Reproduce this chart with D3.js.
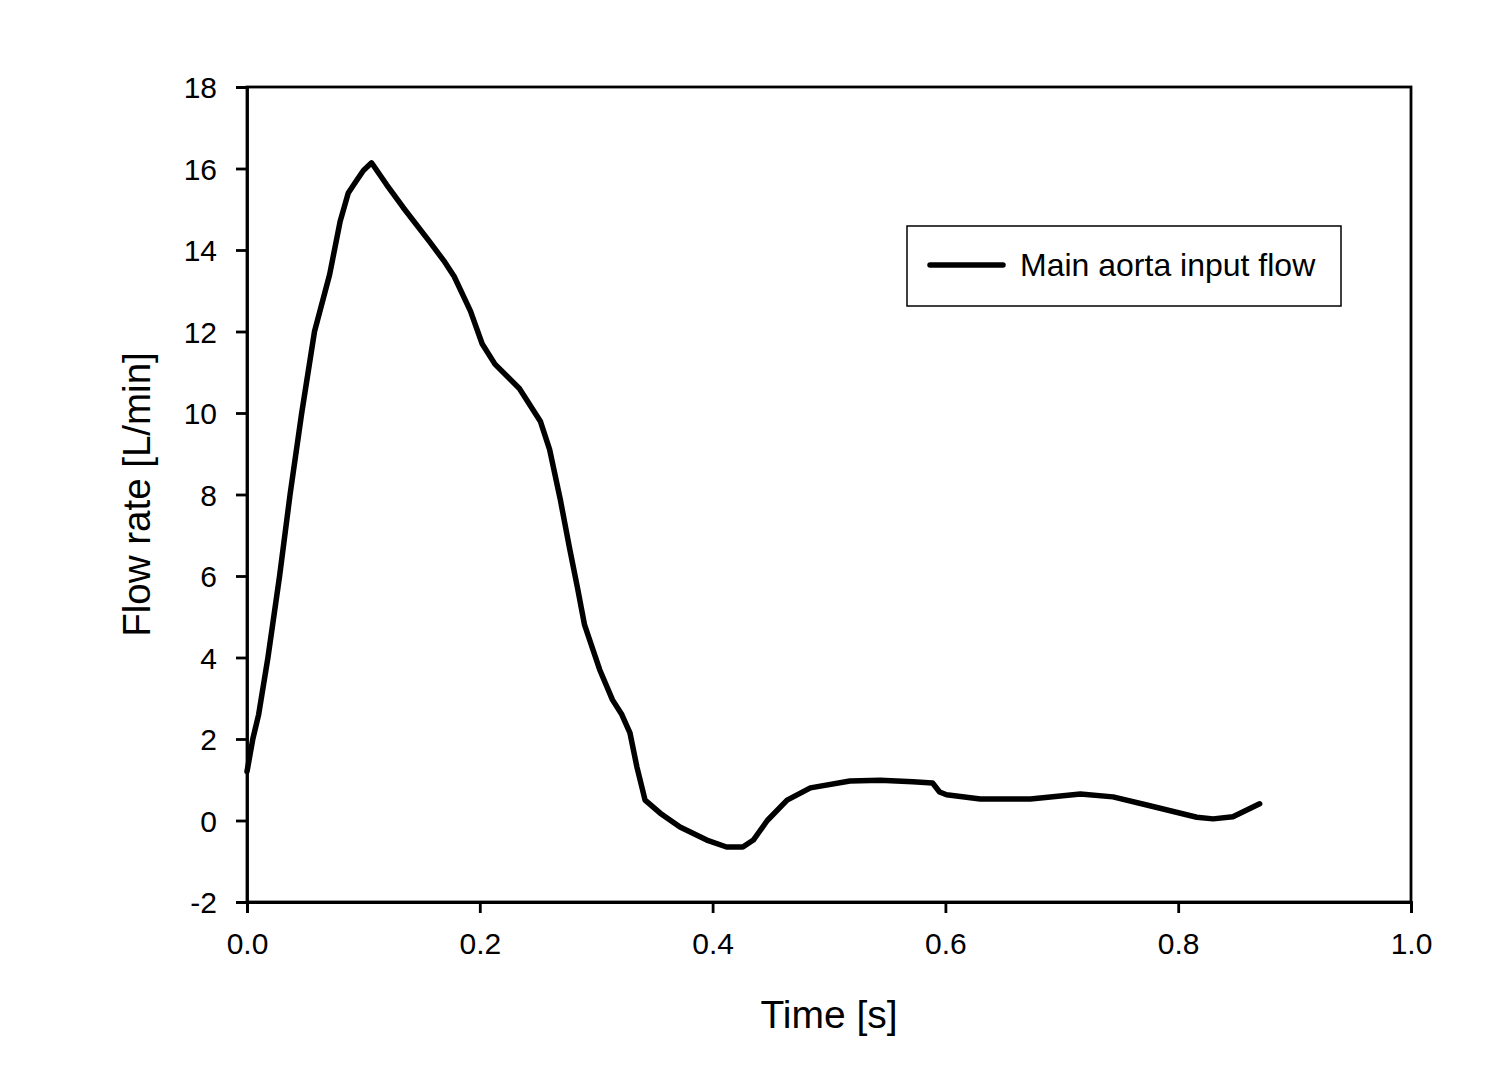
<!DOCTYPE html>
<html>
<head>
<meta charset="utf-8">
<script src="https://cdn.jsdelivr.net/npm/d3@7"></script>
<style>
  html, body { margin: 0; padding: 0; background: #fff; }
  svg { display: block; }
  text { font-family: Arial, "Liberation Sans", sans-serif; fill: #000; }
</style>
</head>
<body>
<svg id="chart" width="1500" height="1076"></svg>
<script>
// ---- Data ----
const timeValues = [0.000, 0.005, 0.010, 0.018, 0.028, 0.037, 0.047, 0.058, 0.071, 0.080, 0.087, 0.094, 0.100, 0.107,
  0.120, 0.134, 0.157, 0.170, 0.178, 0.192, 0.202, 0.213, 0.234, 0.252, 0.260, 0.269, 0.277, 0.284, 0.290,
  0.303, 0.314, 0.322, 0.329, 0.335, 0.342, 0.355, 0.372, 0.395, 0.412, 0.426, 0.435, 0.447, 0.464, 0.484,
  0.518, 0.544, 0.572, 0.589, 0.595, 0.601, 0.630, 0.673, 0.716, 0.744, 0.773, 0.816, 0.830, 0.847, 0.870];
const flowValues = [1.2, 2.0, 2.6, 4.0, 6.0, 8.0, 10.0, 12.0, 13.4, 14.7, 15.4, 15.7, 15.95, 16.14,
  15.6, 15.05, 14.2, 13.7, 13.35, 12.5, 11.7, 11.2, 10.6, 9.8, 9.1, 7.9, 6.7, 5.7, 4.8,
  3.7, 2.96, 2.6, 2.15, 1.31, 0.5, 0.18, -0.16, -0.48, -0.65, -0.65, -0.48, 0.0, 0.5, 0.8,
  0.97, 0.99, 0.95, 0.92, 0.7, 0.63, 0.53, 0.53, 0.65, 0.58, 0.38, 0.08, 0.04, 0.09, 0.41];
const xTicks = [0.0, 0.2, 0.4, 0.6, 0.8, 1.0];
const yTicks = [-2, 0, 2, 4, 6, 8, 10, 12, 14, 16, 18];
const seriesName = "Main aorta input flow";
const xTitle = "Time [s]";
const yTitle = "Flow rate [L/min]";

// ---- Layout ----
const plotLeft = 247, plotRight = 1411, plotTop = 87, plotBottom = 902;
const svg = d3.select("#chart");

const x = d3.scaleLinear().domain([0, 1]).range([plotLeft, plotRight]);
const y = d3.scaleLinear().domain([-2, 18]).range([plotBottom, plotTop]);

// frame
svg.append("rect")
  .attr("x", plotLeft).attr("y", plotTop)
  .attr("width", plotRight - plotLeft).attr("height", plotBottom - plotTop)
  .attr("fill", "none").attr("stroke", "#000").attr("stroke-width", 2.8);

// axes
const xAxis = d3.axisBottom(x).tickValues(xTicks).tickFormat(d => d.toFixed(1)).tickSizeOuter(0).tickSize(11).tickPadding(20);
const yAxis = d3.axisLeft(y).tickValues(yTicks).tickFormat(d => String(d)).tickSizeOuter(0).tickSize(11).tickPadding(19);

const gx = svg.append("g").attr("transform", `translate(0,${plotBottom})`).call(xAxis);
const gy = svg.append("g").attr("transform", `translate(${plotLeft},0)`).call(yAxis);
[gx, gy].forEach(g => {
  g.select(".domain").attr("stroke", "#000").attr("stroke-width", 2.8);
  g.selectAll(".tick line").attr("stroke", "#000").attr("stroke-width", 2.8);
  g.selectAll(".tick text").attr("font-size", 30).attr("font-family", "Arial, 'Liberation Sans', sans-serif").attr("fill", "#000");
});
gy.selectAll(".tick text").attr("dy", "0.36em");

// line
const line = d3.line()
  .x((d, i) => x(timeValues[i]))
  .y(d => y(d))
  .curve(d3.curveLinear);
svg.append("path")
  .datum(flowValues)
  .attr("d", line)
  .attr("fill", "none")
  .attr("stroke", "#000")
  .attr("stroke-width", 5.5)
  .attr("stroke-linejoin", "round")
  .attr("stroke-linecap", "round");

// axis titles
svg.append("text")
  .attr("x", (plotLeft + plotRight) / 2).attr("y", 1028)
  .attr("text-anchor", "middle").attr("font-size", 39)
  .text(xTitle);
svg.append("text")
  .attr("transform", `translate(150,${(plotTop + plotBottom) / 2}) rotate(-90)`)
  .attr("text-anchor", "middle").attr("font-size", 38.5)
  .text(yTitle);

// legend
const lg = svg.append("g");
lg.append("rect")
  .attr("x", 907).attr("y", 226).attr("width", 434).attr("height", 80)
  .attr("fill", "#fff").attr("stroke", "#000").attr("stroke-width", 1.5);
lg.append("line")
  .attr("x1", 930).attr("x2", 1003).attr("y1", 265).attr("y2", 265)
  .attr("stroke", "#000").attr("stroke-width", 5.5).attr("stroke-linecap", "round");
lg.append("text")
  .attr("x", 1020).attr("y", 276)
  .attr("font-size", 32)
  .text(seriesName);
</script>
</body>
</html>
